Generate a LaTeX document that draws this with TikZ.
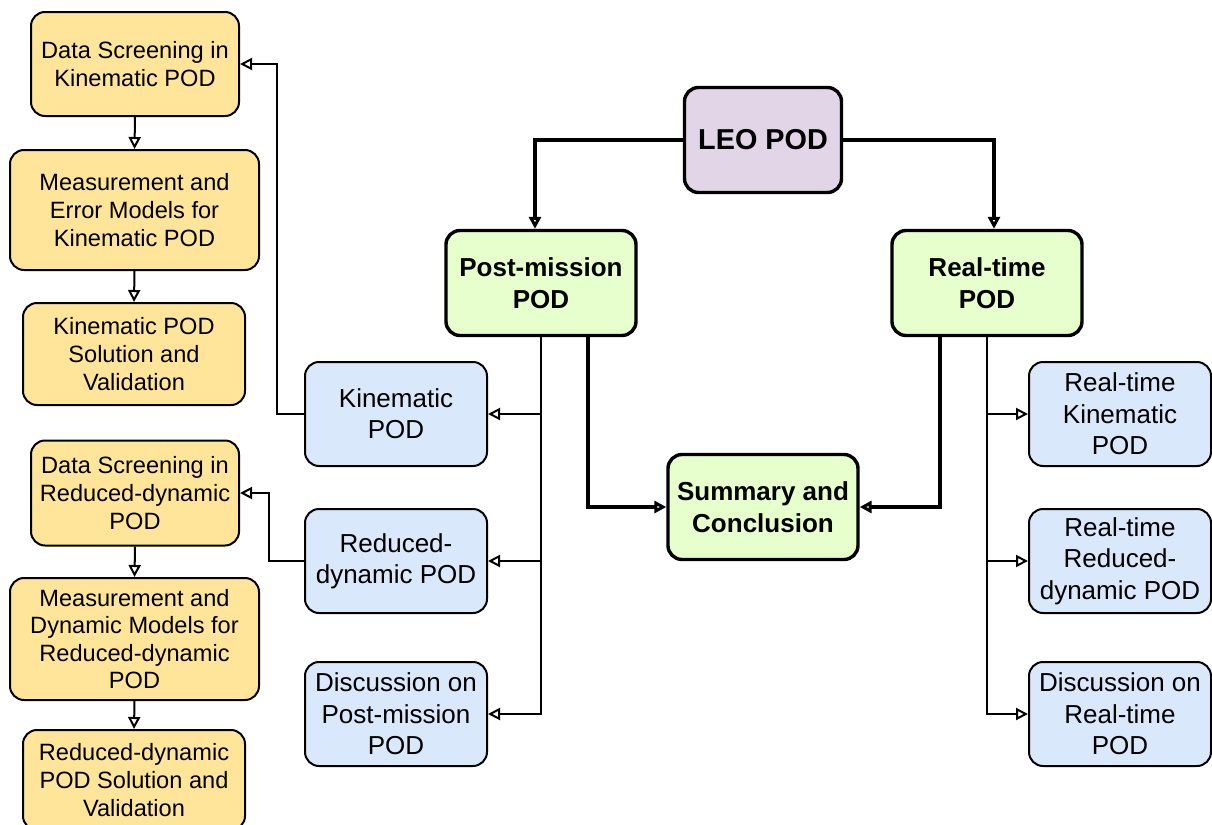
\documentclass[tikz,border=0pt]{standalone}
\usepackage{fontspec}
\setmainfont{Liberation Sans}
\usetikzlibrary{arrows.meta,positioning,calc}
\definecolor{orangefill}{RGB}{255,229,153}
\definecolor{bluefill}{RGB}{218,232,252}
\definecolor{greenfill}{RGB}{230,255,204}
\definecolor{purplefill}{RGB}{225,213,231}

\begin{document}
\begin{tikzpicture}[x=0.5pt,y=-0.5pt,
  box/.style={draw,rounded corners=7pt,align=center,inner sep=0pt,line width=1pt,
    font=\fontsize{11.8}{13.8}\selectfont},
  orangebox/.style={box,fill=orangefill},
  bluebox/.style={box,fill=bluefill,minimum width=91pt,minimum height=52pt,
    font=\fontsize{13}{15.7}\selectfont},
  greenbox/.style={box,fill=greenfill,line width=1.7pt,minimum width=95pt,
    minimum height=52.5pt,font=\fontsize{13}{16}\selectfont\bfseries},
  link/.style={draw,line width=1pt,-{Triangle[open,length=6pt,width=6pt]}},
  mainlink/.style={link,line width=1.7pt}]
  \useasboundingbox (0,0) rectangle (1212,825);

  % top level
  \node[greenbox,fill=purplefill,minimum width=78.5pt,font=\fontsize{14.4}{17}\selectfont\bfseries] (leo) at (763,140) {LEO POD};
  \node[greenbox] (pm) at (541,283) {Post-mission\\POD};
  \node[greenbox] (rt) at (987,283) {Real-time\\POD};
  \node[greenbox] (sum) at (763,507) {Summary and\\Conclusion};

  % post-mission branch
  \node[bluebox] (kin) at (396,414) {Kinematic\\POD};
  \node[bluebox] (red) at (396,561) {Reduced-\\dynamic POD};
  \node[bluebox] (dpm) at (396,714) {Discussion on\\Post-mission\\POD};

  % real-time branch
  \node[bluebox] (rtk) at (1120,414) {Real-time\\Kinematic\\POD};
  \node[bluebox] (rtr) at (1120,561) {Real-time\\Reduced-\\dynamic POD};
  \node[bluebox] (drt) at (1120,714) {Discussion on\\Real-time\\POD};

  % kinematic chapters
  \node[orangebox,minimum width=104pt,minimum height=52pt] (dsk) at (135,64) {Data Screening in\\Kinematic POD};
  \node[orangebox,minimum width=124.5pt,minimum height=60pt] (mek) at (134.5,210) {Measurement and\\Error Models for\\Kinematic POD};
  \node[orangebox,minimum width=111pt,minimum height=51pt] (svk) at (134,354) {Kinematic POD\\Solution and\\Validation};

  % reduced-dynamic chapters
  \node[orangebox,minimum width=104pt,minimum height=52.5pt] (dsr) at (135,493) {Data Screening in\\Reduced-dynamic\\POD};
  \node[orangebox,minimum width=124.5pt,minimum height=61pt] (mer) at (134.5,639) {Measurement and\\Dynamic Models for\\Reduced-dynamic\\POD};
  \node[orangebox,minimum width=111pt,minimum height=50pt] (svr) at (134,780) {Reduced-dynamic\\POD Solution and\\Validation};

  \draw[mainlink] (leo.west) -| ($(pm.north)+(-6,0)$);
  \draw[mainlink] (leo.east) -| ($(rt.north)+(7,0)$);
  \draw[mainlink] ($(pm.south)+(47,0)$) |- (sum.west);
  \draw[mainlink] ($(rt.south)+(-47,0)$) |- (sum.east);

  \foreach \b in {kin,red,dpm} \draw[link] (pm.south) |- (\b.east);
  \foreach \b in {rtk,rtr,drt} \draw[link] (rt.south) |- (\b.west);

  \draw[link] (kin.west) -- ++(-27,0) |- (dsk.east);
  \draw[link] (red.west) -- ++(-35,0) |- (dsr.east);
  \draw[link] (dsk.south) -- (mek.north);
  \draw[link] (mek.south) -- (svk.north);
  \draw[link] (dsr.south) -- (mer.north);
  \draw[link] (mer.south) -- (svr.north);
\end{tikzpicture}
\end{document}
